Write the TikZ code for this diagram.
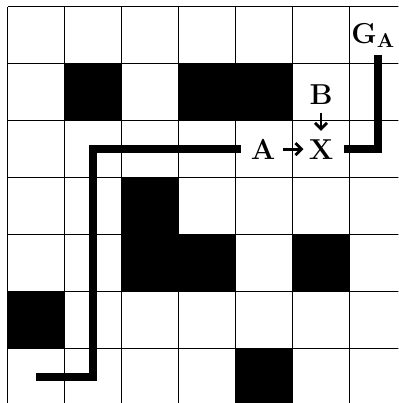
\documentclass[tikz,border=0pt]{standalone}
\usepackage{amsmath}
\usepackage{tikz}
\usetikzlibrary{arrows.meta,positioning}
\tikzstyle{lbl} = [inner sep=5pt, font=\Large\bfseries]
\tikzstyle{route} = [line width=4pt]
\tikzstyle{arrow} = [line width=1.4pt,-{Straight Barb[length=3pt,width=6pt]}]

\begin{document}
\begin{tikzpicture}[node distance=0.2cm]
    \useasboundingbox (-0.14,0.04) rectangle (6.86,7.12);
    \clip (-0.14,0.04) rectangle (6.86,7.12);
    % walls
    \foreach \x/\y in {1/5,3/5,4/5,2/3,2/2,3/2,5/2,0/1,4/0}
        \fill (\x,\y) rectangle ++(1,1);
    \draw[line width=0.5pt] (0,0) grid (7,7);
    % labels
    \node[lbl] (X) at (5.5,4.5) {X};
    \node[lbl, left=0.22cm of X] (A) {A};
    \node[lbl, above=0.25cm of X] (B) {B};
    \node[lbl, inner sep=0pt] (GA) at (6.42,6.5) {$\mathbf{G_A}$};
    \coordinate (goal) at (6.5,6.16);
    \coordinate (start) at (0.5,0.5);
    \draw[arrow, shorten <=-1.5pt, shorten >=-2.5pt] (A) -- (X);
    \draw[arrow, shorten <=-1pt, shorten >=-1pt] (B) -- (X);
    \draw[route] (X.east) -| (goal);
    \draw[route] (A.west) -- (1.5,4.5) |- (start);
\end{tikzpicture}
\end{document}
